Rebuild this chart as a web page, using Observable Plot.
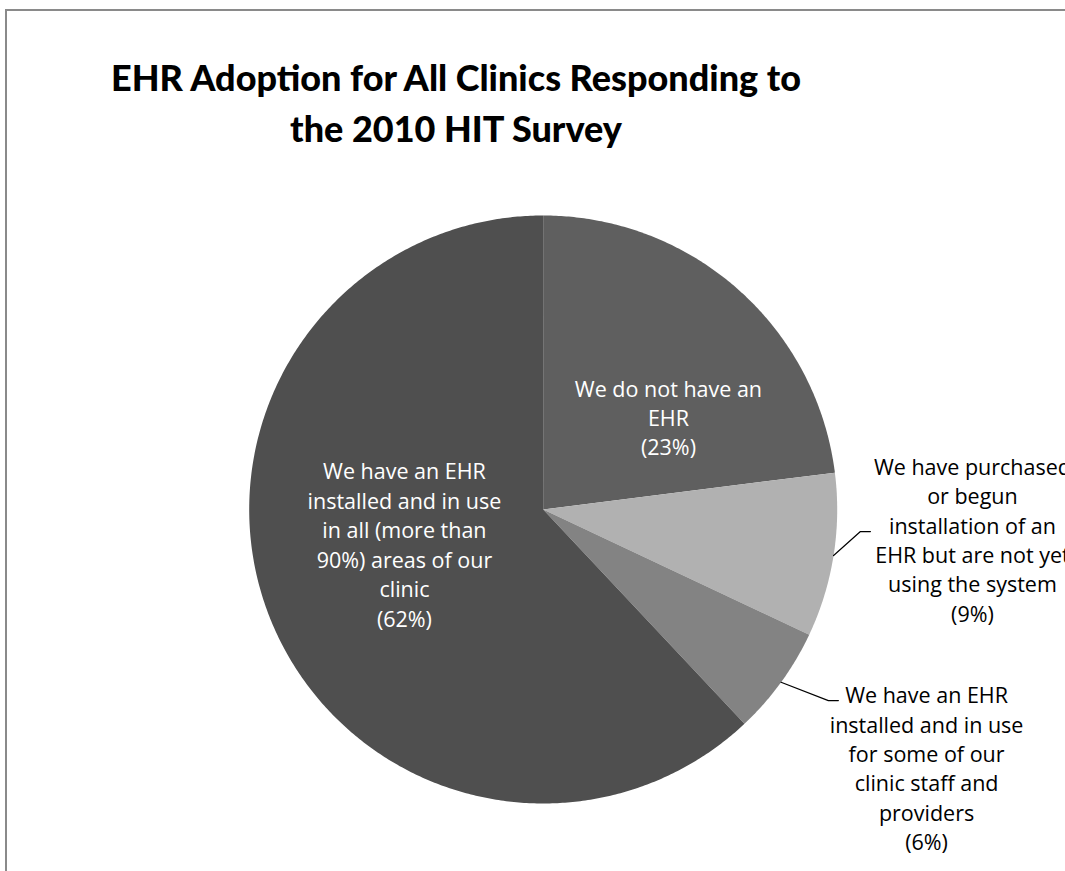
<!DOCTYPE html>
<html>
<head>
<meta charset="utf-8">
<script src="https://cdn.jsdelivr.net/npm/d3@7"></script>
<script src="https://cdn.jsdelivr.net/npm/@observablehq/plot@0.6"></script>
<style>
  html, body { margin: 0; padding: 0; background: #fff; overflow: hidden; }
  #page { position: relative; width: 1065px; height: 871px; overflow: hidden; background: #fff; }
  #frame { position: absolute; left: 5px; top: 9px; width: 1200px; height: 1000px;
           border-left: 2px solid #8a8a8a; border-top: 2px solid #8a8a8a; }
  #title { position: absolute; left: 0; top: 52px; width: 912px; text-align: center;
           font-family: Lato, "Open Sans", sans-serif; font-weight: 900; font-size: 36px;
           line-height: 51px; color: #000; }
  #chart { position: absolute; left: 0; top: 170px; }
</style>
</head>
<body>
<div id="page">
  <div id="frame"></div>
  <div id="title">EHR Adoption for All Clinics Responding to<br>the 2010 HIT Survey</div>
  <div id="chart"></div>
</div>
<script>
// ---- data ----
const categories = [
  "We do not have an EHR",
  "We have purchased or begun installation of an EHR but are not yet using the system",
  "We have an EHR installed and in use for some of our clinic staff and providers",
  "We have an EHR installed and in use in all (more than 90%) areas of our clinic"
];
const shares = [23, 9, 6, 62];
const labelLines = [
  ["We do not have an", "EHR"],
  ["We have purchased", "or begun", "installation of an", "EHR but are not yet", "using the system"],
  ["We have an EHR", "installed and in use", "for some of our", "clinic staff and", "providers"],
  ["We have an EHR", "installed and in use", "in all (more than", "90%) areas of our", "clinic"]
];

// ---- styles / layout ----
const fills = ["#5f5f5f", "#b1b1b1", "#838383", "#4f4f4f"];
const labelLayout = [
  {inside: true,  x: 0.426, y: 0.316},
  {inside: false, x: 1.46,  y: -0.100, elbow: [1.079, -0.075], end: [1.113, -0.075]},
  {inside: false, x: 1.304, y: -0.877, elbow: [0.970, -0.650], end: [1.004, -0.650]},
  {inside: true,  x: -0.472, y: -0.116}
];
const W = 1065, H = 701, CX = 542.7, CY = 339, R = 294;

const arcs = d3.pie().sort(null).value(d => d)(shares);

// slice outlines sampled along the arc
const slicePts = [];
arcs.forEach((a, i) => {
  slicePts.push({k: i, x: 0, y: 0});
  const n = Math.max(8, Math.ceil((a.endAngle - a.startAngle) / (Math.PI / 360)));
  for (let j = 0; j <= n; j++) {
    const t = a.startAngle + (a.endAngle - a.startAngle) * j / n;
    slicePts.push({k: i, x: Math.sin(t), y: Math.cos(t)});
  }
  slicePts.push({k: i, x: 0, y: 0});
});

const labels = arcs.map((a, i) => ({
  k: i,
  x: labelLayout[i].x,
  y: labelLayout[i].y,
  text: labelLines[i].join("\n") + "\n(" + shares[i] + "%)",
  color: labelLayout[i].inside ? "#ffffff" : "#000000"
}));

const leaders = [];
arcs.forEach((a, i) => {
  const L = labelLayout[i];
  if (L.inside) return;
  const m = (a.startAngle + a.endAngle) / 2;
  leaders.push({k: i, x: Math.sin(m), y: Math.cos(m)});
  leaders.push({k: i, x: L.elbow[0], y: L.elbow[1]});
  leaders.push({k: i, x: L.end[0], y: L.end[1]});
});

const chart = Plot.plot({
  width: W,
  height: H,
  margin: 0,
  style: {background: "transparent", overflow: "visible"},
  x: {domain: [-1, 1], range: [CX - R, CX + R], axis: null},
  y: {domain: [-1, 1], range: [CY + R, CY - R], axis: null},
  color: {domain: [0, 1, 2, 3], range: fills},
  marks: [
    Plot.line(slicePts, {x: "x", y: "y", z: "k", fill: d => fills[d.k], stroke: null, curve: "linear"}),
    Plot.line(leaders, {x: "x", y: "y", z: "k", stroke: "#000", strokeWidth: 1.2}),
    Plot.text(labels, {
      x: "x", y: "y", text: "text", fill: d => d.color,
      fontSize: 21.5, lineHeight: 1.37, fontFamily: "'Open Sans', sans-serif",
      textAnchor: "middle", lineAnchor: "middle"
    })
  ]
});
document.getElementById("chart").appendChild(chart);
</script>
</body>
</html>
